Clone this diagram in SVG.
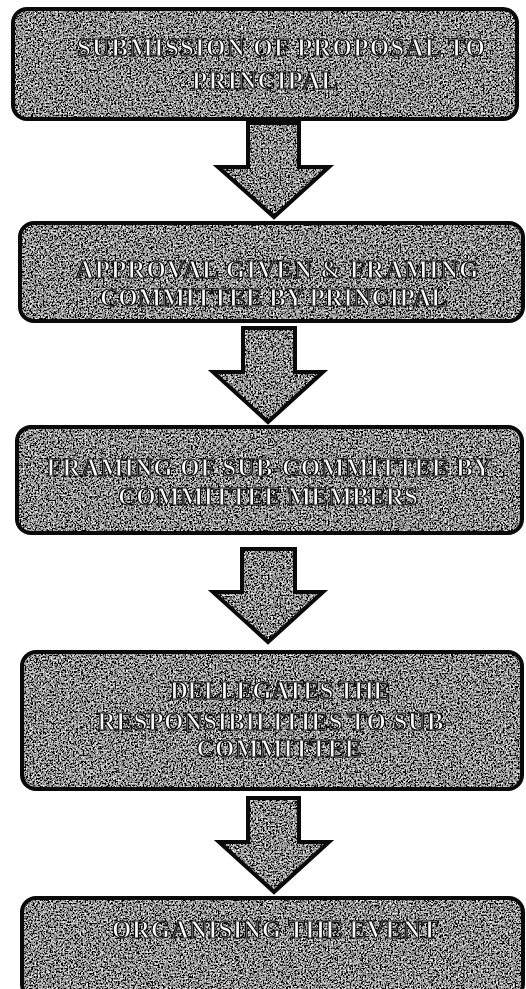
<svg xmlns="http://www.w3.org/2000/svg" width="526" height="989" viewBox="0 0 526 989">
<defs>
<filter id="grain" x="0" y="0" width="100%" height="100%">
<feTurbulence type="fractalNoise" baseFrequency="0.6" numOctaves="2" seed="7" result="n"/>
<feColorMatrix in="n" type="matrix" values="0.33 0.33 0.33 0 0 0.33 0.33 0.33 0 0 0.33 0.33 0.33 0 0 0 0 0 0 1" result="g"/>
<feComponentTransfer in="g" result="c">
<feFuncR type="linear" slope="4.5" intercept="-1.95"/>
<feFuncG type="linear" slope="4.5" intercept="-1.95"/>
<feFuncB type="linear" slope="4.5" intercept="-1.95"/>
</feComponentTransfer>
<feComposite in="c" in2="SourceGraphic" operator="in"/>
</filter>
<filter id="flat" x="-5%" y="-20%" width="110%" height="140%">
<feOffset dx="0" dy="0"/>
</filter>
<style>
.fill{fill:#888;filter:url(#grain);}
.edge{fill:none;stroke:#0a0a0a;stroke-width:4;}
.arrow{stroke:#0a0a0a;stroke-width:4;stroke-linejoin:miter;}
.lbl{font-family:"Liberation Serif","Times New Roman",serif;font-size:25px;font-weight:bold;fill:#ffffff;stroke:#0d0d0d;stroke-width:1.2;text-anchor:middle;}
.txt{filter:url(#flat);}
</style>
</defs>
<rect width="526" height="989" fill="#ffffff"/>
<g id="connectors">
<path class="fill" d="M248,123 L299,123 L299,167 L329,167 L274,217 L218,167 L248,167 Z"/>
<path class="arrow" fill="none" d="M248,123 L299,123 L299,167 L329,167 L274,217 L218,167 L248,167 Z"/>
<path class="fill" d="M243,328 L295,328 L295,372 L323,372 L268,422 L213,372 L243,372 Z"/>
<path class="arrow" fill="none" d="M243,328 L295,328 L295,372 L323,372 L268,422 L213,372 L243,372 Z"/>
<path class="fill" d="M242,549 L295,549 L295,592 L323,592 L268,642 L213,592 L242,592 Z"/>
<path class="arrow" fill="none" d="M242,549 L295,549 L295,592 L323,592 L268,642 L213,592 L242,592 Z"/>
<path class="fill" d="M248,798 L299,798 L299,842 L329,842 L274,892 L219,842 L248,842 Z"/>
<path class="arrow" fill="none" d="M248,798 L299,798 L299,842 L329,842 L274,892 L219,842 L248,842 Z"/>
</g>
<g id="node1">
<rect class="fill" x="13" y="9" width="504" height="110" rx="14"/>
<rect class="edge" x="13" y="9" width="504" height="110" rx="14"/>
<g class="txt">
<text class="lbl" x="281" y="56" textLength="408" lengthAdjust="spacing">SUBMISSION OF PROPOSAL TO</text>
<text class="lbl" x="265" y="89" textLength="146" lengthAdjust="spacing">PRINCIPAL</text>
</g>
</g>
<g id="node2">
<rect class="fill" x="20" y="223" width="503" height="98" rx="14"/>
<rect class="edge" x="20" y="223" width="503" height="98" rx="14"/>
<g class="txt">
<text class="lbl" x="277" y="278" textLength="403" lengthAdjust="spacing">APPROVAL GIVEN &amp; FRAMING</text>
<text class="lbl" x="274" y="306" textLength="348" lengthAdjust="spacing">COMMITTEE BY PRINCIPAL</text>
</g>
</g>
<g id="node3">
<rect class="fill" x="17" y="427" width="505" height="106" rx="14"/>
<rect class="edge" x="17" y="427" width="505" height="106" rx="14"/>
<g class="txt">
<text class="lbl" x="269" y="476" textLength="445" lengthAdjust="spacing">FRAMING OF SUB-COMMITTEE BY</text>
<text class="lbl" x="268" y="505" textLength="300" lengthAdjust="spacing">COMMITTEE MEMBERS</text>
</g>
</g>
<g id="node4">
<rect class="fill" x="22" y="652" width="500" height="137" rx="14"/>
<rect class="edge" x="22" y="652" width="500" height="137" rx="14"/>
<g class="txt">
<text class="lbl" x="280" y="699" textLength="220" lengthAdjust="spacing">DELLEGATES THE</text>
<text class="lbl" x="275" y="730" textLength="355" lengthAdjust="spacing">RESPONSIBILITIES TO  SUB-</text>
<text class="lbl" x="279" y="757" textLength="165" lengthAdjust="spacing">COMMITTEE</text>
</g>
</g>
<g id="node5">
<rect class="fill" x="22" y="898" width="501" height="100" rx="14"/>
<rect class="edge" x="22" y="898" width="501" height="100" rx="14"/>
<g class="txt">
<text class="lbl" x="275" y="938" textLength="326" lengthAdjust="spacing">ORGANISING THE EVENT</text>
</g>
</g>
</svg>
